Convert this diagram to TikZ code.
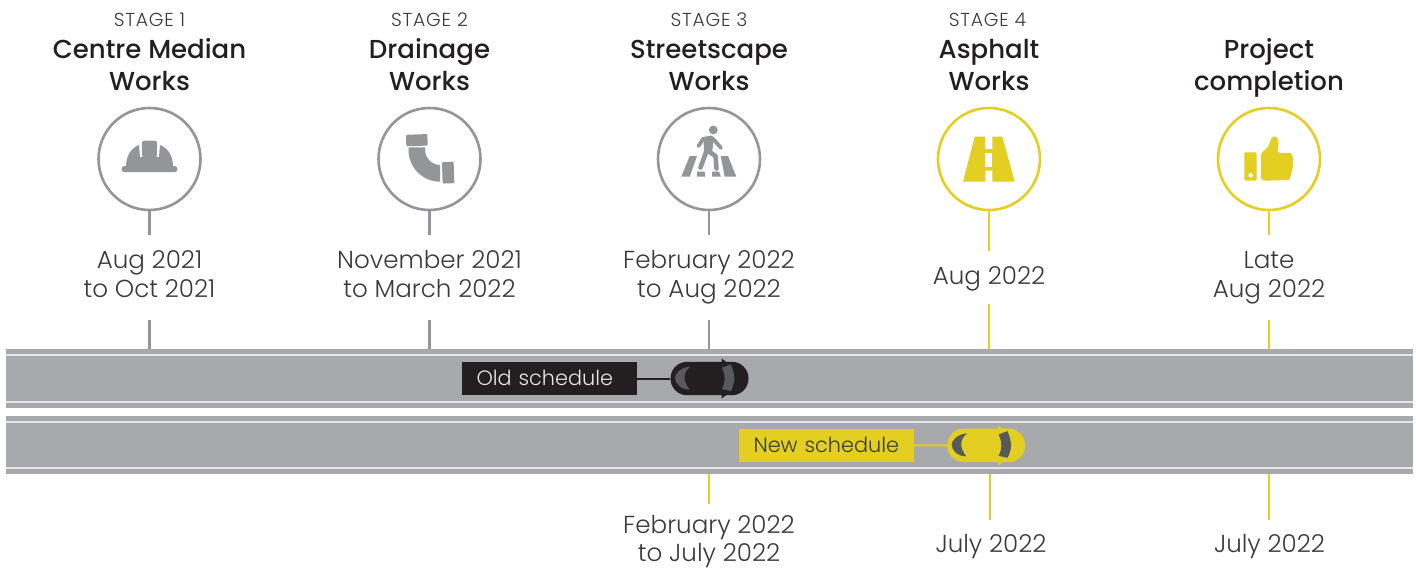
\documentclass[tikz,border=0pt]{standalone}
\usepackage{fontspec}
\setmainfont{Poppins}
\newfontfamily\lightf{Poppins Light}
\newfontfamily\stagef[LetterSpace=4]{Poppins Light}
\newfontfamily\medf{Poppins Medium}
\usetikzlibrary{calc}
\definecolor{gr}{HTML}{939598}
\definecolor{yl}{HTML}{E3CF22}
\definecolor{road}{HTML}{A7A9AC}
\definecolor{rline}{HTML}{E6E7E8}
\definecolor{ink}{HTML}{231F20}
\definecolor{txt}{HTML}{3A3A3C}
\definecolor{win}{HTML}{58595B}
\tikzset{
 x=1pt,y=-1pt,
 ring/.style={circle,draw=#1,line width=2.6pt,fill=white,minimum size=102pt,inner sep=0pt},
 stage/.style={text=txt,font=\stagef\fontsize{18.8}{22}\selectfont,anchor=base},
 title/.style={text=ink,font=\medf\fontsize{26}{32}\selectfont,align=center,anchor=center,inner sep=0pt},
 date/.style={text=txt,font=\lightf\fontsize{24.6}{28.8}\selectfont,align=center,anchor=center,inner sep=0pt},
 conn/.style={draw=#1,line width=2.2pt},
 roadbody/.style={fill=road,draw=none,minimum width=1407pt,inner sep=0pt,anchor=north west},
 rstripe/.style={draw=rline,line width=2pt},
 sched/.style={minimum height=33pt,text width=146pt,inner xsep=14.5pt,inner ysep=0pt,align=left,font=\lightf\fontsize{20.8}{24}\selectfont},
 carbody/.style={fill=#1,rounded corners=16.5pt,minimum width=78pt,minimum height=33.4pt,inner sep=0pt},
}
\newcommand{\carparts}[4]{%
 \begin{scope}[shift={(#1,#2)}]
  \fill[#3] (12,-20) -- (17.5,-16) -- (12,-15) -- cycle;
  \fill[#3] (12,20) -- (17.5,16) -- (12,15) -- cycle;
  \fill[#4] (-19,-12) .. controls (-30,-11) and (-34.5,-4) .. (-34.5,-1) .. controls (-34.5,5) and (-29,11) .. (-20,11)
            .. controls (-23,7) and (-25,3) .. (-25,-1) .. controls (-25,-5) and (-23,-9) .. (-19,-12) -- cycle;
  \fill[#4] (12.5,-10.8) -- (21.2,-14.2) .. controls (23.5,-9) and (24.8,-4) .. (24.8,0) .. controls (24.8,4) and (23.5,9) .. (21.2,12.5)
            -- (12.5,10.5) .. controls (14.5,6) and (15.2,3) .. (15.2,0) .. controls (15.2,-3) and (14.5,-6) .. (12.5,-10.8) -- cycle;
 \end{scope}}
\begin{document}
\begin{tikzpicture}
\useasboundingbox (0,0) rectangle (1416,568);
% roads
\node[roadbody,minimum height=59pt] (oldroad) at (6,349) {};
\node[roadbody,minimum height=58pt] (newroad) at (6,416) {};
\draw[rstripe] (oldroad.north west |- 0,354.7) -- (oldroad.north east |- 0,354.7);
\draw[rstripe] (oldroad.north west |- 0,401.5) -- (oldroad.north east |- 0,401.5);
\draw[rstripe] (newroad.north west |- 0,422) -- (newroad.north east |- 0,422);
\draw[rstripe] (newroad.north west |- 0,468) -- (newroad.north east |- 0,468);
% rings
\node[ring=gr] (c1) at (149.5,159) {};
\node[ring=gr] (c2) at (429.5,159) {};
\node[ring=gr] (c3) at (709,159) {};
\node[ring=yl] (c4) at (989,159) {};
\node[ring=yl] (c5) at (1269,159) {};
% headings
\node[stage] (s1) at (149.5,26) {STAGE 1};
\node[stage] (s2) at (429.5,26) {STAGE 2};
\node[stage] (s3) at (709,26) {STAGE 3};
\node[stage] (s4) at (987.5,26) {STAGE 4};
\node[title] (t1) at (149.5,67.6) {\strut Centre Median\\\strut Works};
\node[title] (t2) at (429.5,67.6) {\strut Drainage\\\strut Works};
\node[title] (t3) at (709,67.6) {\strut Streetscape\\\strut Works};
\node[title] (t4) at (989,67.6) {\strut Asphalt\\\strut Works};
\node[title] (t5) at (1269,67.6) {\strut Project\\\strut completion};
% dates
\node[date] (d1) at (149.5,277.2) {\strut Aug 2021\\\strut to Oct 2021};
\node[date] (d2) at (429.5,277.2) {\strut November 2021\\\strut to March 2022};
\node[date] (d3) at (709,277.2) {\strut February 2022\\\strut to Aug 2022};
\node[date] (d4) at (989,279) {\strut Aug 2022};
\node[date] (d5) at (1269,277.2) {\strut Late\\\strut Aug 2022};
\node[date] (n3) at (709,541.6) {February 2022\\to July 2022};
\node[date] (n4) at (991,547) {\strut July 2022};
\node[date] (n5) at (1269.5,547) {\strut July 2022};
% connector ends
\coordinate (a1) at (149.5,235); \coordinate (b1) at (149.5,320);
\coordinate (a2) at (429.5,235); \coordinate (b2) at (429.5,320);
\coordinate (a3) at (709,235);   \coordinate (b3) at (709,320);
\coordinate (a4) at (989,251);   \coordinate (b4) at (989,304);
\coordinate (a5) at (1269,235);  \coordinate (b5) at (1269,320);
\coordinate (e3) at (709,504);
\coordinate (e4) at (990,520);
\coordinate (e5) at (1269,520);
\foreach \i in {1,2,3}{
 \draw[conn=gr] (c\i.south) -- (a\i);
 \draw[conn=gr] (b\i) -- (b\i |- oldroad.north);
}
\foreach \i in {4,5}{
 \draw[conn=yl] (c\i.south) -- (a\i);
 \draw[conn=yl] (b\i) -- (b\i |- oldroad.north);
}
\foreach \i in {3,4,5}{
 \draw[conn=yl] (e\i |- newroad.south) -- (e\i);
}
% schedules
\node[sched,fill=ink,text=rline] (oldlab) at (549.5,378.5) {\raisebox{1pt}{Old schedule}};
\node[sched,fill=yl,text=txt] (newlab) at (826.5,445.5) {\raisebox{1pt}{New schedule}};
\node[carbody=ink] (oldcar) at (709.5,378.5) {};
\node[carbody=yl] (newcar) at (986.2,445.3) {};
\draw[draw=ink,line width=2pt] (oldlab.east) -- (oldcar.west);
\draw[draw=yl,line width=2pt] (newlab.east) -- (newcar.west);
\carparts{709.5}{378.5}{ink}{win}
\carparts{986.2}{445.3}{yl}{win}
% helmet
\begin{scope}[shift={(c1.center)}]
 \fill[gr,rounded corners=3pt] (-28,7) rectangle (28,13.2);
 \fill[gr] (-23.5,8) .. controls (-23.5,-4) and (-18,-11) .. (-10.5,-14) -- (-9.5,-2) -- (-7.2,-2) -- (-7.5,-17) .. controls (-7.5,-19) and (7.5,-19) .. (7.5,-17) -- (7.2,-2) -- (9.5,-2) -- (10.5,-14) .. controls (18,-11) and (23.5,-4) .. (23.5,8) -- cycle;
\end{scope}
% pipe
\begin{scope}[shift={(c2.center)}]
 \fill[gr,rounded corners=1pt,rotate=2] (-22.7,-25) rectangle (-1.3,-13.5);
 \fill[gr,rounded corners=1pt,rotate=2] (12.3,3.5) rectangle (24,25);
 \fill[gr] (-21,-11.7) -- (-4.3,-11.7) -- (-4.3,-9) .. controls (-4.3,-0.75) and (2.5,6) .. (10.7,6) -- (10.7,22.7) .. controls (-6.8,22.7) and (-21,8.5) .. (-21,-9) -- cycle;
\end{scope}
% pedestrian
\begin{scope}[shift={(c3.center)}]
 \fill[gr] (-19.3,-3) -- (-12,-3) -- (-19.3,17.7) -- (-27.7,17.7) -- cycle;
 \fill[gr] (11.7,-3) -- (19,-3) -- (27.3,17.7) -- (15.7,17.7) -- cycle;
 \fill[gr] (-12,12.7) -- (-4.3,12.7) -- (-3.7,17.7) -- (-12,17.7) -- cycle;
 \fill[gr] (3,12.7) -- (10,12.7) -- (12,17.7) -- (3,17.7) -- cycle;
 \draw[white,line width=8pt,line join=round] (-2,-8) -- (-8.5,9);
 \draw[white,line width=8pt,line join=round] (-1,-8) -- (6.5,-3) -- (7.5,10);
 \fill[gr] (4.3,-29) circle (4.4);
 \draw[gr,line width=3.8pt,line cap=round,line join=round] (-10.5,-13) -- (-6,-20) -- (2,-21.5) -- (6,-18) -- (12,-11);
 \fill[gr] (-5.5,-21.5) -- (5,-22) -- (3,-6) -- (-5,-6) -- cycle;
 \draw[gr,line width=4.6pt,line cap=round,line join=round] (-2.5,-8) -- (-8.5,8.5);
 \draw[gr,line width=4.6pt,line cap=round,line join=round] (-1,-8) -- (6.5,-3) -- (7.5,9.5);
\end{scope}
% road icon
\begin{scope}[shift={(c4.center)}]
 \fill[yl] (-14.3,-22.3) -- (-3.7,-22.3) -- (-3.7,-10) -- (3.3,-10) -- (3.3,-22.3) -- (13.3,-22.3) -- (25.7,22.7) -- (3.3,22.7) -- (3.3,11.7) -- (-3.7,11.7) -- (-3.7,22.7) -- (-26,22.7) -- cycle;
 \fill[white] (-3.7,-5.7) rectangle (3.3,8.3);
\end{scope}
% thumb
\begin{scope}[shift={(c5.center)}]
 \fill[yl,rounded corners=1pt] (-24.7,-6.7) rectangle (-12.3,21.7);
 \fill[white] (-18.3,16.3) circle (2.3);
 \fill[yl,rounded corners=1.5pt] (-8,-5.7) -- (-0.7,-12.3) -- (2.7,-21.7) -- (7,-23) -- (9.7,-17.3) -- (8.3,-6.3) -- (22.7,-5.7) -- (24.3,1) -- (24,8) -- (22,15) -- (21,21) -- (-5.7,21.7) -- (-8,20) -- cycle;
\end{scope}
\end{tikzpicture}
\end{document}
